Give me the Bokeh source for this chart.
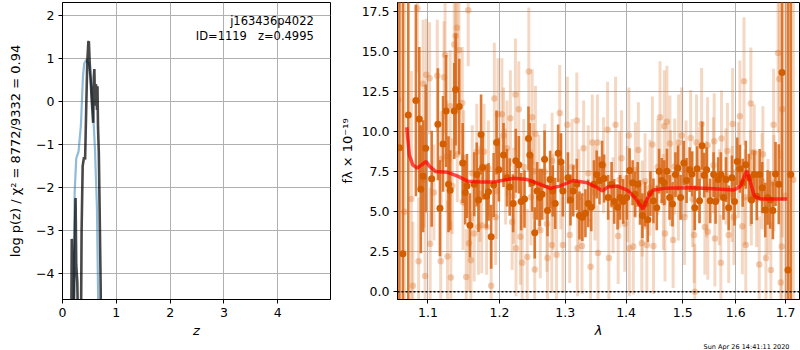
from bokeh.plotting import figure
from bokeh.layouts import row
from bokeh.models import (ColumnDataSource, FixedTicker, PrintfTickFormatter,
                          CustomJSTickFormatter, Label, Span, Title)
from bokeh.embed import file_html
from bokeh.resources import INLINE

# ---------------- left panel: redshift fit ----------------
pz_z = [0.200, 0.218, 0.225, 0.255, 0.298, 0.342, 0.380, 0.404, 0.441, 0.484,
        0.529, 0.566, 0.603, 0.640, 0.677]
pz_logp = [-6.0, -3.0, -2.16, -1.33, -1.17, -0.56, 0.58, 0.88, 0.97, 0.88,
           0.43, -0.18, -1.10, -2.47, -6.0]

chi_z = [0.160, 0.172, 0.185, 0.198, 0.228, 0.243, 0.255, 0.275, 0.300, 0.340,
         0.355, 0.375, 0.400, 0.420, 0.440, 0.460, 0.480, 0.490, 0.505, 0.520,
         0.540, 0.555, 0.570, 0.582, 0.592, 0.600, 0.610, 0.620, 0.630, 0.640,
         0.650, 0.660, 0.675, 0.690, 0.710, 0.720]
chi_val = [-6.0, -3.2, -4.0, -6.0, -3.3, -2.25, -3.8, -4.2, -6.0, -6.0,
           -3.0, -1.5, -1.3, -1.35, -0.2, 0.9, 1.38, 1.40, 0.9, 0.6,
           0.1, -0.2, -0.5, 0.55, 0.75, 0.2, -0.1, 0.4, 0.3, -0.2,
           0.35, -0.6, -1.2, -2.5, -4.4, -6.0]

left_xticks = [0, 1, 2, 3, 4]
left_yticks = [-4, -3, -2, -1, 0, 1, 2]
root_name = "j163436p4022"
id_text = "ID=1119\u00a0\u00a0\u00a0z=0.4995"
left_ylabel = "log p(z) / \u03c7\u00b2 = 8772/9332 = 0.94"

# ---------------- right panel: spectrum ----------------
dark_wave = [1.0625, 1.067, 1.074, 1.084, 1.0885, 1.0905, 1.0936, 1.097, 1.105, 1.1134,
             1.1162, 1.1204, 1.1246, 1.1279, 1.1302, 1.1358, 1.1377, 1.1427, 1.1475, 1.1511,
             1.1535, 1.1577, 1.1637, 1.1674, 1.1698, 1.1735, 1.1758, 1.1814, 1.1842, 1.1880,
             1.1916, 1.1958, 1.1992, 1.2060, 1.2111, 1.2151, 1.2202, 1.2241, 1.2286, 1.2322,
             1.2372, 1.2432, 1.2452, 1.2488, 1.2527, 1.2563, 1.2602, 1.2639, 1.2678, 1.2723,
             1.2764, 1.2804, 1.2843, 1.2889, 1.2934, 1.2964, 1.3044, 1.3084, 1.3128, 1.3185,
             1.3228, 1.3274, 1.3324, 1.3369, 1.3419, 1.3463, 1.3508, 1.3554, 1.3597, 1.3631,
             1.3698, 1.3755, 1.3799, 1.3856, 1.3899, 1.3950, 1.4012, 1.4060, 1.4112, 1.4153,
             1.4200, 1.4240, 1.4281, 1.4328, 1.4375, 1.4421, 1.4474, 1.4533, 1.4574, 1.4621,
             1.4667, 1.4714, 1.4761, 1.4814, 1.4867, 1.4912, 1.4960, 1.5019, 1.5070, 1.5126,
             1.5170, 1.5221, 1.5264, 1.5309, 1.5358, 1.5396, 1.5442, 1.5509, 1.5574, 1.5611,
             1.5660, 1.5711, 1.5762, 1.5811, 1.5862, 1.5925, 1.5975, 1.6028, 1.6080, 1.6135,
             1.6195, 1.6256, 1.6310, 1.6362, 1.6416, 1.6471, 1.6523, 1.6584, 1.6632, 1.6684,
             1.6739, 1.6793, 1.6859, 1.6926, 1.7049, 1.7106]
dark_flux = [9.0, 2.37, 11.04, 11.96, 10.8, 6.4, 7.22, 8.96, 7.06, 10.47,
             5.21, 9.24, 11.29, 6.71, 6.34, 11.29, 12.64, 11.57, 8.04, 6.2,
             6.6, 4.15, 6.71, 7.32, 5.73, 9.82, 7.77, 5.97, 6.24, 3.44,
             6.67, 9.33, 7.63, 8.55, 7.12, 6.54, 5.52, 8.18, 7.93, 5.64,
             5.79, 9.57, 8.55, 6.81, 3.68, 6.30, 5.89, 6.09, 8.28, 5.07,
             7.01, 6.30, 5.52, 8.65, 8.10, 6.30, 7.12, 5.73, 6.30, 6.71,
             4.76, 4.66, 4.91, 5.52, 5.28, 6.71, 7.32, 6.95, 7.93, 7.08,
             5.89, 6.71, 5.64, 5.28, 5.89, 5.64, 5.89, 7.57, 6.81, 6.09,
             6.71, 5.58, 4.76, 5.48, 4.50, 6.13, 5.68, 5.24, 7.53, 6.95,
             6.81, 7.53, 5.89, 5.48, 7.32, 7.73, 5.89, 8.04, 6.95, 7.63,
             7.36, 5.24, 7.69, 5.68, 9.12, 7.28, 7.63, 5.68, 7.32, 5.64,
             7.01, 7.32, 5.89, 7.01, 5.24, 7.12, 5.64, 8.14, 7.69, 6.81,
             7.93, 7.12, 5.73, 7.32, 5.97, 7.32, 6.50, 5.11, 5.89, 5.73,
             5.07, 7.36, 6.71, 13.7, 1.35, 7.32]
dark_err = [40, 30, 20, 6, 4.5, 4, 3.5, 4, 3, 3.5,
            3, 3, 3.5, 3, 2.5, 3, 3.5, 3, 2.5, 2,
            2, 2, 2, 2, 2, 2.5, 2, 2, 1.8, 2,
            2, 2, 2, 2, 1.8, 1.8, 1.8, 2, 1.8, 1.8,
            1.8, 2, 2, 1.8, 1.6, 1.8, 1.8, 1.6, 1.8, 1.6,
            1.8, 1.6, 1.6, 1.8, 1.8, 1.6, 1.6, 1.6, 1.6, 1.6,
            1.5, 1.5, 1.5, 1.5, 1.5, 1.5, 1.5, 1.5, 1.5, 1.5,
            1.4, 1.4, 1.4, 1.4, 1.4, 1.4, 1.4, 1.4, 1.4, 1.4,
            1.4, 1.4, 1.4, 1.4, 1.4, 1.4, 1.4, 1.4, 1.4, 1.4,
            1.4, 1.4, 1.4, 1.4, 1.4, 1.4, 1.4, 1.4, 1.4, 1.4,
            1.4, 1.4, 1.4, 1.4, 1.5, 1.4, 1.4, 1.4, 1.4, 1.4,
            1.4, 1.4, 1.4, 1.4, 1.4, 1.4, 1.5, 1.5, 1.5, 1.5,
            1.5, 1.5, 1.5, 1.5, 1.5, 1.6, 1.6, 1.7, 1.7, 1.8,
            1.8, 2.0, 2.5, 8, 30, 30]

light_wave = [1.061, 1.069, 1.078, 1.080, 1.086, 1.0876, 1.0936, 1.0962, 1.0978, 1.1022,
              1.1030, 1.1126, 1.1172, 1.1218, 1.1232, 1.1256, 1.1265, 1.1302, 1.1311, 1.1358,
              1.1377, 1.1395, 1.1400, 1.1423, 1.1469, 1.1489, 1.1525, 1.1553, 1.1563, 1.1591,
              1.1637, 1.1674, 1.1698, 1.1744, 1.1777, 1.1814, 1.1880, 1.1926, 1.1944, 1.1978,
              1.2036, 1.2060, 1.2111, 1.2161, 1.2187, 1.2236, 1.2245, 1.2286, 1.2311, 1.2337,
              1.2413, 1.2437, 1.2488, 1.2512, 1.2527, 1.2538, 1.2612, 1.2714, 1.2723, 1.2789,
              1.2795, 1.2864, 1.2914, 1.2964, 1.3034, 1.3072, 1.3185, 1.3195, 1.3268, 1.3295,
              1.3408, 1.3436, 1.3520, 1.3530, 1.3688, 1.3710, 1.3822, 1.3866, 1.3923, 1.3978,
              1.4047, 1.4055, 1.4123, 1.4211, 1.4270, 1.4328, 1.4358, 1.4456, 1.4474, 1.4591,
              1.4667, 1.4679, 1.4714, 1.4767, 1.4825, 1.4854, 1.4925, 1.4982, 1.5032, 1.5145,
              1.5208, 1.5221, 1.5253, 1.5347, 1.5409, 1.5460, 1.5465, 1.5585, 1.5598, 1.5711,
              1.5724, 1.5838, 1.5862, 1.5938, 1.5963, 1.6080, 1.6129, 1.6161, 1.6195, 1.6296,
              1.6305, 1.6362, 1.6463, 1.6537, 1.6598, 1.6698, 1.6753, 1.6845, 1.6873, 1.6899,
              1.6920, 1.6934, 1.7000, 1.7160,
              1.095, 1.108, 1.118, 1.133, 1.148, 1.161, 1.172, 1.184, 1.196, 1.209,
              1.221, 1.236, 1.247, 1.259, 1.268, 1.281, 1.293, 1.311, 1.322, 1.337,
              1.348, 1.362, 1.378, 1.389, 1.402, 1.416, 1.428, 1.441, 1.455, 1.465,
              1.478, 1.492, 1.506, 1.518, 1.531, 1.544, 1.557, 1.568, 1.581, 1.593,
              1.605, 1.618, 1.629, 1.641, 1.652, 1.664, 1.676]
light_flux = [12.0, 5.0, 5.79, 0.37, 17.7, 1.9, 13.0, 0.98, 13.56, 13.35,
              2.99, 13.5, 1.9, 13.4, 14.8, 8.45, 2.2, 11.6, 0.88, 15.46,
              16.0, 16.5, 8.59, 15.1, 11.8, 8.34, 0.92, 17.6, 3.03, 1.96,
              3.64, 8.75, 4.05, 4.15, 8.75, 4.05, 0.37, 12.07, 4.66, 11.1,
              11.1, 9.77, 8.96, 10.84, 4.36, 12.33, 2.72, 11.41, 3.44, 1.8,
              2.17, 13.76, 10.9, 7.53, 1.39, 9.88, 3.84, 4.25, 2.1, 2.92,
              8.18, 2.31, 11.17, 2.92, 10.43, 3.54, 10.7, 2.72, 2.86, 8.96,
              1.55, 9.33, 9.33, 2.41, 10.12, 2.1, 10.43, 3.48, 8.34, 4.25,
              9.77, 2.72, 2.82, 8.85, 3.03, 6.91, 2.92, 9.2, 2.86, 10.9,
              10.35, 3.64, 10.63, 9.26, 3.23, 7.83, 9.33, 9.77, 4.66, 9.61,
              3.54, 0.0, 9.33, 10.49, 4.05, 9.16, 3.74, 9.41, 3.33, 1.8,
              9.57, 8.79, 3.54, 10.49, 4.66, 10.96, 4.09, 13.15, 2.92, 11.76,
              5.89, 8.71, 1.7, 8.59, 2.1, 1.35, 10.43, 14.93, 13.29, 0.57,
              2.82, 11.41, 6.0, 7.0,
              7.0, 6.2, 8.3, 6.6, 5.6, 7.4, 6.1, 7.7, 6.3, 7.2,
              6.0, 7.8, 5.9, 6.8, 7.5, 5.6, 6.9, 7.8, 5.9, 7.4,
              6.2, 7.9, 5.4, 7.0, 6.1, 7.6, 5.2, 6.5, 7.8, 5.6,
              7.1, 6.2, 7.7, 5.8, 7.3, 6.4, 7.9, 5.9, 7.2, 6.1,
              7.6, 5.9, 7.1, 5.8, 6.9, 5.3, 6.8]
light_err = [30, 25, 8, 4, 4, 4, 4, 4, 3.5, 3.5,
             3.5, 3.5, 3.5, 3.5, 4, 3.5, 3.5, 3.5, 3.5, 4,
             4, 4, 3, 4, 3.5, 3, 3, 3.5, 3, 3,
             3, 3, 3, 3, 3, 3, 3, 3.5, 3, 3.5,
             3.5, 3, 3, 3, 3, 3.5, 3, 3, 3, 3,
             3, 4, 3, 3, 3, 3, 3, 3, 3, 3,
             3, 3, 3, 3, 3, 3, 3, 3, 3, 3,
             3, 3, 3, 3, 3, 3, 3, 3, 3, 3,
             3, 3, 3, 3, 3, 3, 3, 3, 3, 3.5,
             3.5, 3, 3.5, 3, 3, 3, 3, 3, 3, 3,
             3, 3, 3, 3.5, 3, 3, 3, 3, 3, 3,
             3, 3, 3, 3.5, 3, 3.5, 3, 4, 3, 3.5,
             3, 3, 3, 3, 3, 3, 3.5, 5, 5, 5,
             6, 8, 25, 25,
             3, 3, 3, 3, 3, 3, 3, 3, 3, 3,
             3, 3, 3, 3, 3, 3, 3, 3, 3, 3,
             3, 3, 3, 3, 3, 3, 3, 3, 3, 3,
             3, 3, 3, 3, 3, 3, 3, 3, 3, 3,
             3, 3, 3, 3, 3, 3, 3]

model_wave = [1.0720, 1.0753, 1.0799, 1.0855, 1.0916, 1.0976, 1.1022, 1.1102, 1.1265, 1.1405,
              1.1545, 1.1730, 1.1911, 1.2211, 1.2413, 1.2613, 1.2764, 1.2914, 1.3128, 1.3352,
              1.3520, 1.3604, 1.3688, 1.3856, 1.4025, 1.4170, 1.4288, 1.4375, 1.4463, 1.4667,
              1.5145, 1.5585, 1.5962, 1.6095, 1.6215, 1.6281, 1.6362, 1.6497, 1.7034]
model_flux = [10.28, 8.55, 7.93, 7.73, 7.93, 8.14, 7.83, 7.52, 7.46, 7.22,
              6.91, 6.85, 6.85, 7.09, 7.01, 6.71, 6.46, 6.60, 6.95, 6.81,
              6.50, 6.30, 6.54, 6.60, 6.34, 5.79, 5.17, 5.89, 6.34, 6.46,
              6.50, 6.44, 6.36, 6.60, 7.56, 6.91, 5.99, 5.79, 5.79]

right_xticks = [1.1, 1.2, 1.3, 1.4, 1.5, 1.6, 1.7]
right_yticks = [0.0, 2.5, 5.0, 7.5, 10.0, 12.5, 15.0, 17.5]
right_ylabel = "f\u03bb \u00d7 10\u207b\u00b9\u2079"
date_text = "Sun Apr 26 14:41:11 2020"

FONT = "DejaVu Sans"
GRID = "#b0b0b0"
BOTTOM = 47


def style(p):
    p.outline_line_color = "black"
    p.outline_line_width = 1
    p.outline_line_alpha = 1
    p.axis.axis_line_color = "black"
    p.axis.major_tick_line_color = "black"
    p.axis.major_tick_out = 4
    p.axis.major_tick_in = 0
    p.axis.minor_tick_line_color = None
    p.axis.major_label_text_font = FONT
    p.axis.major_label_text_font_size = "12.5px"
    p.axis.major_label_text_color = "black"
    p.axis.major_label_standoff = 4
    p.axis.axis_label_text_font = FONT
    p.axis.axis_label_text_font_size = "13px"
    p.axis.axis_label_text_color = "black"
    p.axis.axis_label_standoff = 4
    p.xaxis.axis_label_standoff = 3
    p.grid.grid_line_color = GRID
    p.grid.grid_line_width = 1
    p.background_fill_color = "white"
    p.border_fill_color = "white"


minus_fmt = CustomJSTickFormatter(code="""
    return tick < 0 ? '\\u2212' + Math.abs(tick) : String(tick);
""")

# ---------- left figure ----------
p1 = figure(width=335, height=350, x_range=(0, 4.98), y_range=(-4.61, 2.30),
            output_backend="svg", toolbar_location=None,
            min_border_left=62, min_border_right=5, min_border_top=2,
            min_border_bottom=BOTTOM)
style(p1)
p1.xaxis.ticker = FixedTicker(ticks=left_xticks)
p1.yaxis.ticker = FixedTicker(ticks=left_yticks)
p1.yaxis.formatter = minus_fmt
p1.xaxis.axis_label = "z"
p1.xaxis.axis_label_text_font_style = "italic"
p1.yaxis.axis_label = left_ylabel
p1.yaxis.axis_label_text_font_style = "normal"
p1.yaxis.axis_label_standoff = 10

p1.line(pz_z, pz_logp, line_color="#1f77b4", line_alpha=0.5, line_width=2.2)
p1.line(chi_z, chi_val, line_color="black", line_alpha=0.72, line_width=2.6)

p1.add_layout(Label(x=4.67, y=1.87, text=root_name, text_align="right",
                    text_baseline="middle", text_font=FONT, text_font_size="11.5px",
                    text_color="black"))
p1.add_layout(Label(x=4.67, y=1.52, text=id_text, text_align="right",
                    text_baseline="middle", text_font=FONT, text_font_size="11.5px",
                    text_color="black"))

# ---------- right figure ----------
p2 = figure(width=465, height=350, x_axis_type="log", x_range=(1.060, 1.729),
            y_range=(-0.49, 18.08), output_backend="svg", toolbar_location=None,
            min_border_left=62, min_border_right=1, min_border_top=2,
            min_border_bottom=BOTTOM)
style(p2)
p2.xaxis.ticker = FixedTicker(ticks=right_xticks)
p2.xaxis.formatter = PrintfTickFormatter(format="%.1f")
p2.yaxis.ticker = FixedTicker(ticks=right_yticks)
p2.yaxis.formatter = PrintfTickFormatter(format="%.1f")
p2.xaxis.axis_label = "\u03bb"
p2.xaxis.axis_label_text_font_style = "italic"
p2.yaxis.axis_label = right_ylabel
p2.yaxis.axis_label_text_font_style = "normal"

light_src = ColumnDataSource(dict(
    x=light_wave, y=light_flux,
    lo=[f - e for f, e in zip(light_flux, light_err)],
    hi=[f + e for f, e in zip(light_flux, light_err)]))
dark_src = ColumnDataSource(dict(
    x=dark_wave, y=dark_flux,
    lo=[f - e for f, e in zip(dark_flux, dark_err)],
    hi=[f + e for f, e in zip(dark_flux, dark_err)]))

ORANGE = "#dc7226"
p2.segment(x0="x", y0="lo", x1="x", y1="hi", source=light_src,
           line_color=ORANGE, line_alpha=0.28, line_width=3)
p2.scatter(x="x", y="y", source=light_src, size=6.5, fill_color=ORANGE,
           fill_alpha=0.35, line_color=None)
p2.segment(x0="x", y0="lo", x1="x", y1="hi", source=dark_src,
           line_color="#d86818", line_alpha=0.88, line_width=2.6)
p2.scatter(x="x", y="y", source=dark_src, size=7, fill_color="#d25e00",
           fill_alpha=1.0, line_color=None)
p2.line(model_wave, model_flux, line_color="red", line_alpha=0.7, line_width=3.5)

p2.add_layout(Span(location=0, dimension="width", line_color="black",
                   line_dash="2 2", line_width=1.5))

p2.add_layout(Title(text=date_text, align="right", text_font=FONT,
                    text_font_size="6.5px", text_font_style="normal",
                    text_color="black", standoff=0, offset=10), "below")

layout = row(p1, p2)
open("out.html", "w").write(file_html(layout, INLINE))
